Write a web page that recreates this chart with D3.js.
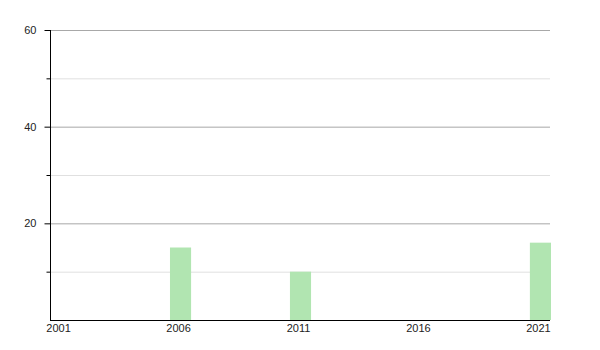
<!DOCTYPE html>
<html>
<head>
<meta charset="utf-8">
<script src="https://cdn.jsdelivr.net/npm/d3@7"></script>
<style>
  body { margin: 0; background: #fff; }
  text { font-family: "Liberation Sans", Arial, sans-serif; font-size: 11px; fill: #222; }
</style>
</head>
<body>
<div id="chart"></div>
<script>
// --- data ---
const years = d3.range(2001, 2022);
const barYears = [2006, 2011, 2021];
const barValues = [15, 10, 16];
const xTickYears = [2001, 2006, 2011, 2016, 2021];
const yMajorTicks = [20, 40, 60];
const yMinorTicks = [10, 30, 50];

const W = 600, H = 350;
const margin = { top: 30, right: 50, bottom: 30, left: 50 };
const width = W - margin.left - margin.right,
      height = H - margin.top - margin.bottom;

const svg = d3.select("#chart").append("svg")
  .attr("width", W).attr("height", H);
const g = svg.append("g").attr("transform", `translate(${margin.left},${margin.top})`);

const x = d3.scaleBand().domain(years).range([0, width + 1]).paddingInner(0.12).paddingOuter(0);
const y = d3.scaleLinear().domain([0, 60]).range([height, 0]);

// grid lines
g.selectAll(".minor").data(yMinorTicks).enter().append("line")
  .attr("x1", 0).attr("x2", width)
  .attr("y1", d => y(d) + 0.5).attr("y2", d => y(d) + 0.5)
  .attr("stroke", "#e0e0e0");
g.selectAll(".major").data(yMajorTicks).enter().append("line")
  .attr("x1", 0).attr("x2", width)
  .attr("y1", d => y(d) + 0.5).attr("y2", d => y(d) + 0.5)
  .attr("stroke", "#a8a8a8");

// bars
g.selectAll(".bar").data(barYears).enter().append("rect")
  .attr("x", d => x(d))
  .attr("width", x.bandwidth())
  .attr("y", (d, i) => y(barValues[i]))
  .attr("height", (d, i) => height - y(barValues[i]))
  .attr("fill", "#b1e5b1");

// y axis
const yAxis = g.append("g").attr("transform", "translate(0.5,0)");
yAxis.append("line").attr("y1", 0).attr("y2", height).attr("stroke", "#000");
yAxis.selectAll(".tmaj").data(yMajorTicks).enter().append("line")
  .attr("x1", -6).attr("x2", 0)
  .attr("y1", d => y(d) + 0.5).attr("y2", d => y(d) + 0.5)
  .attr("stroke", "#000");
yAxis.selectAll(".tmin").data(yMinorTicks).enter().append("line")
  .attr("x1", -4).attr("x2", 0)
  .attr("y1", d => y(d) + 0.5).attr("y2", d => y(d) + 0.5)
  .attr("stroke", "#000");
yAxis.selectAll(".lab").data(yMajorTicks).enter().append("text")
  .attr("x", -14).attr("y", d => y(d)).attr("dy", "0.35em")
  .attr("text-anchor", "end")
  .text(d => d);

// x axis
const xAxis = g.append("g").attr("transform", `translate(0,${height + 0.5})`);
xAxis.append("line").attr("x1", 0).attr("x2", width).attr("stroke", "#000");
xAxis.selectAll("text").data(xTickYears).enter().append("text")
  .attr("x", d => x(d) + x.bandwidth() / 2 - 2)
  .attr("y", 11).attr("text-anchor", "middle")
  .text(d => d);
</script>
</body>
</html>
